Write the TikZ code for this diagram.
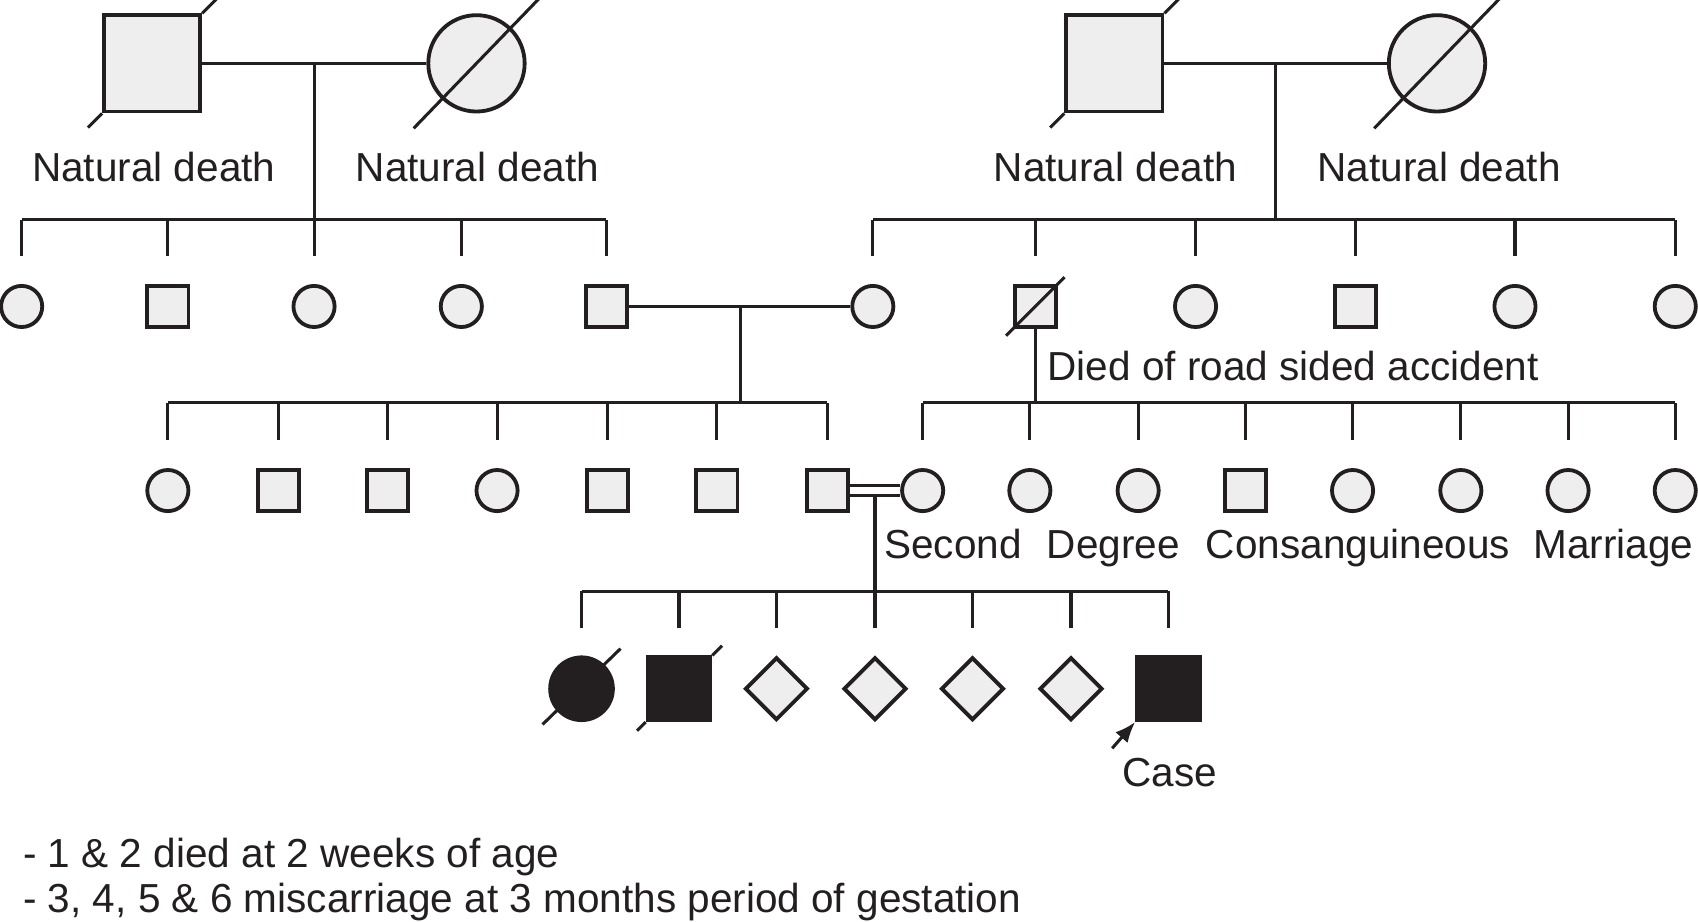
\documentclass[tikz,border=0pt]{standalone}
\usepackage{fontspec}
\setmainfont{Liberation Sans}
\usetikzlibrary{shapes.geometric,arrows.meta}

\definecolor{pedline}{RGB}{35,31,32}
\definecolor{pedfill}{RGB}{238,238,238}

\tikzset{
  male/.style={draw=pedline, rectangle, fill=pedfill, line width=2pt, minimum size=0.76cm, inner sep=0pt},
  female/.style={draw=pedline, circle, fill=pedfill, line width=2pt, minimum size=0.76cm, inner sep=0pt},
  unknown/.style={draw=pedline, diamond, aspect=1, fill=pedfill, line width=2pt, minimum size=1.16cm, inner sep=0pt},
  big/.style={minimum size=1.78cm},
  mid/.style={minimum size=1.16cm},
  affected/.style={fill=pedline},
  txt/.style={inner sep=0pt, font=\fontsize{21.3}{25}\selectfont, text=pedline},
}

\begin{document}
\begin{tikzpicture}[x=0.02cm, y=-0.02cm, line width=1.6pt, color=pedline]

        \path[fill=white, use as bounding box] (0,0) rectangle (1568,851);

        % Grandparents (left and right)
        \node[male, big] (I1) at (140.5,58.5) {};
        \node[female, big] (I2) at (440,58.5) {};
        \node[male, big] (I3) at (1029,58.5) {};
        \node[female, big] (I4) at (1327,58.5) {};

        \node[txt, anchor=base] (nd1) at (142,168) {Natural death};
        \node[txt, anchor=base] (nd2) at (441,168) {Natural death};
        \node[txt, anchor=base] (nd3) at (1030,168) {Natural death};
        \node[txt, anchor=base] (nd4) at (1329,168) {Natural death};

        % Deceased marks
        \draw (I1.south west) -- ++(-13,13);
        \draw (I1.north east) -- ++(13,-13);
        \draw ([shift={(-58,60)}]I2.center) -- ([shift={(58,-60)}]I2.center);
        \draw (I3.south west) -- ++(-13,13);
        \draw (I3.north east) -- ++(13,-13);
        \draw ([shift={(-58,60)}]I4.center) -- ([shift={(58,-60)}]I4.center);

        % Second generation
        \node[female] (II1) at (20,283) {};
        \node[male] (II2) at (155,283) {};
        \node[female] (II3) at (290,283) {};
        \node[female] (II4) at (426,283) {};
        \node[male] (II5) at (560,283) {};
        \node[female] (II6) at (806,283) {};
        \node[male] (II7) at (956,283) {};
        \node[female] (II8) at (1104,283) {};
        \node[male] (II9) at (1252,283) {};
        \node[female] (II10) at (1399,283) {};
        \node[female] (II11) at (1547,283) {};

        \draw ([shift={(-27,27)}]II7.center) -- ([shift={(27,-27)}]II7.center);
        \node[txt, anchor=base west] (acc) at (966,351) {Died of road sided accident};

        % Marriages and descent, first generation
        \coordinate (d1) at (290,58.5);
        \coordinate (s1) at (290,203);
        \coordinate (d2) at (1178,58.5);
        \coordinate (s2) at (1178,203);
        \draw (I1.east) -- (I2.west);
        \draw (d1) -- (s1);
        \draw (II1 |- s1) -- (II5 |- s1);
        \draw (I3.east) -- (I4.west);
        \draw (d2) -- (s2);
        \draw (II6 |- s2) -- (II11 |- s2);

        % Sibship ticks, second generation
        \draw ([yshift=0.52cm]II1.north) -- (II1 |- s1);
        \draw ([yshift=0.52cm]II2.north) -- (II2 |- s1);
        \draw ([yshift=0.52cm]II3.north) -- (II3 |- s1);
        \draw ([yshift=0.52cm]II4.north) -- (II4 |- s1);
        \draw ([yshift=0.52cm]II5.north) -- (II5 |- s1);
        \draw ([yshift=0.52cm]II6.north) -- (II6 |- s2);
        \draw ([yshift=0.52cm]II7.north) -- (II7 |- s2);
        \draw ([yshift=0.52cm]II8.north) -- (II8 |- s2);
        \draw ([yshift=0.52cm]II9.north) -- (II9 |- s2);
        \draw ([yshift=0.52cm]II10.north) -- (II10 |- s2);
        \draw ([yshift=0.52cm]II11.north) -- (II11 |- s2);

        % Third generation
        \node[female] (III1) at (155,453) {};
        \node[male] (III2) at (257,453) {};
        \node[male] (III3) at (358,453) {};
        \node[female] (III4) at (459,453) {};
        \node[male] (III5) at (561,453) {};
        \node[male] (III6) at (662,453) {};
        \node[male] (III7) at (764,453) {};
        \node[female] (III8) at (852,453) {};
        \node[female] (III9) at (951,453) {};
        \node[female] (III10) at (1051,453) {};
        \node[male] (III11) at (1150,453) {};
        \node[female] (III12) at (1249,453) {};
        \node[female] (III13) at (1349,453) {};
        \node[female] (III14) at (1448,453) {};
        \node[female] (III15) at (1547,453) {};

        \node[txt, anchor=base] (lb1) at (880,516) {Second};
        \node[txt, anchor=base] (lb2) at (1028,516) {Degree};
        \node[txt, anchor=base] (lb3) at (1254,516) {Consanguineous};
        \node[txt, anchor=base] (lb4) at (1490,516) {Marriage};

        % Marriages and descent, second generation
        \coordinate (d3) at (684,283);
        \coordinate (s3) at (684,372);
        \coordinate (s4) at (956,372);
        \draw (II5.east) -- (II6.west);
        \draw (d3) -- (s3);
        \draw (III1 |- s3) -- (III7 |- s3);
        \draw (II7.south) -- (s4);
        \draw (III8 |- s4) -- (III15 |- s4);

        % Sibship ticks, third generation
        \draw ([yshift=0.52cm]III1.north) -- (III1 |- s3);
        \draw ([yshift=0.52cm]III2.north) -- (III2 |- s3);
        \draw ([yshift=0.52cm]III3.north) -- (III3 |- s3);
        \draw ([yshift=0.52cm]III4.north) -- (III4 |- s3);
        \draw ([yshift=0.52cm]III5.north) -- (III5 |- s3);
        \draw ([yshift=0.52cm]III6.north) -- (III6 |- s3);
        \draw ([yshift=0.52cm]III7.north) -- (III7 |- s3);
        \draw ([yshift=0.52cm]III8.north) -- (III8 |- s4);
        \draw ([yshift=0.52cm]III9.north) -- (III9 |- s4);
        \draw ([yshift=0.52cm]III10.north) -- (III10 |- s4);
        \draw ([yshift=0.52cm]III11.north) -- (III11 |- s4);
        \draw ([yshift=0.52cm]III12.north) -- (III12 |- s4);
        \draw ([yshift=0.52cm]III13.north) -- (III13 |- s4);
        \draw ([yshift=0.52cm]III14.north) -- (III14 |- s4);
        \draw ([yshift=0.52cm]III15.north) -- (III15 |- s4);

        % Fourth generation
        \node[female, mid, affected] (IV1) at (537,636) {};
        \node[male, mid, affected] (IV2) at (627,636) {};
        \node[unknown] (IV3) at (717,636) {};
        \node[unknown] (IV4) at (808,636) {};
        \node[unknown] (IV5) at (898,636) {};
        \node[unknown] (IV6) at (989,636) {};
        \node[male, mid, affected] (IV7) at (1079,636) {};

        \draw ([shift={(-36,33)}]IV1.center) -- ([shift={(36,-37)}]IV1.center);
        \draw (IV2.south west) -- ++(-8,8);
        \draw (IV2.north east) -- ++(9,-9);

        % Consanguineous marriage and descent
        \coordinate (d4) at (808,457);
        \coordinate (s5) at (808,546);
        \draw[double=white, double distance=0.12cm] (III7.east) -- (III8.west);
        \draw (d4) -- (s5);
        \draw (IV1 |- s5) -- (IV7 |- s5);

        % Sibship ticks, fourth generation
        \draw ([yshift=0.5cm]IV1.north) -- (IV1 |- s5);
        \draw ([yshift=0.5cm]IV2.north) -- (IV2 |- s5);
        \draw ([yshift=0.5cm]IV3.north) -- (IV3 |- s5);
        \draw ([yshift=0.5cm]IV4.north) -- (IV4 |- s5);
        \draw ([yshift=0.5cm]IV5.north) -- (IV5 |- s5);
        \draw ([yshift=0.5cm]IV6.north) -- (IV6 |- s5);
        \draw ([yshift=0.5cm]IV7.north) -- (IV7 |- s5);

        % Proband
        \coordinate (arr) at (1027,691);
        \draw[-{Latex[length=0.38cm, width=0.3cm]}] (arr) -- (IV7.south west);
        \node[txt, anchor=base] (case) at (1080,726) {Case};

        % Notes
        \node[txt, anchor=base west] (note1) at (20,801) {- 1 \& 2 died at 2 weeks of age};
        \node[txt, anchor=base west] (note2) at (20,843) {- 3, 4, 5 \& 6 miscarriage at 3 months period of gestation};

    \end{tikzpicture}
\end{document}
